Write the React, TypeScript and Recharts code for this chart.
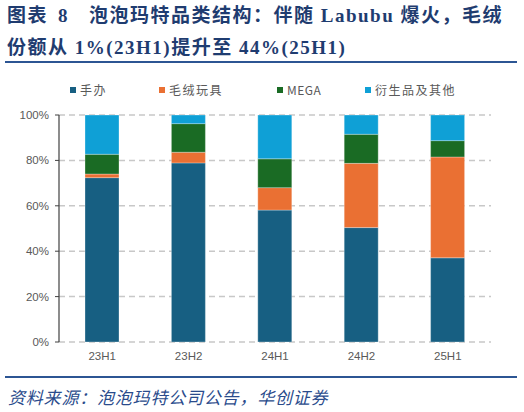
import { BarChart, Bar, XAxis, YAxis, CartesianGrid } from 'recharts';

const categories = ['23H1', '23H2', '24H1', '24H2', '25H1'];
const figureShare = [72.4, 78.9, 58.1, 50.4, 37.1];
const plushShare = [1.6, 4.7, 9.9, 28.3, 44.4];
const megaShare = [8.7, 12.6, 12.7, 12.8, 7.2];
const otherShare = [17.3, 3.8, 19.3, 8.5, 11.3];
const yTicks = [0, 20, 40, 60, 80, 100];

const seriesNames = ['手办', '毛绒玩具', 'MEGA', '衍生品及其他'];
const seriesColors = ['#175f82', '#ea7033', '#1a6b24', '#0fa0d6'];

const chartData = categories.map((c, i) => ({
    name: c,
    idx: i + 0.5,
    figure: figureShare[i],
    plush: plushShare[i],
    mega: megaShare[i],
    other: otherShare[i],
}));

const legendLeft = [70, 159, 277, 365];

function LegendRow() {
    return (
        <div style={{ position: 'absolute', left: 0, top: 81, width: 524, height: 18 }}>
            {seriesNames.map((n, i) => (
                <div
                    key={n}
                    style={{
                        position: 'absolute',
                        left: legendLeft[i],
                        top: 0,
                        display: 'flex',
                        alignItems: 'center',
                        fontSize: 12,
                        letterSpacing: n === 'MEGA' ? 0.5 : 1.5,
                        color: '#595959',
                        fontFamily: '"Noto Sans CJK SC", "DejaVu Sans", sans-serif',
                        whiteSpace: 'nowrap',
                    }}
                >
                    <span style={{ display: 'inline-block', width: 6, height: 6, background: seriesColors[i], marginRight: 4 }} />
                    {n}
                </div>
            ))}
        </div>
    );
}

export default function App() {
    const titleFont = '"Liberation Serif", "Noto Sans CJK SC", serif';
    return (
        <div style={{ position: 'absolute', left: 0, top: 0, width: 524, height: 412, background: '#fff', overflow: 'hidden' }}>
            <div
                style={{
                    position: 'absolute',
                    left: 7,
                    top: 0,
                    fontFamily: titleFont,
                    fontWeight: 700,
                    fontSize: 19,
                    letterSpacing: 1.5,
                    lineHeight: '32px',
                    color: '#1f3c70',
                    whiteSpace: 'nowrap',
                }}
            >
                <div>
                    图表<span style={{ marginLeft: 10, marginRight: 20 }}>8</span>泡泡玛特品类结构：伴随 Labubu 爆火，毛绒
                </div>
                <div>份额从 1%(23H1)提升至 44%(25H1)</div>
            </div>
            <div style={{ position: 'absolute', left: 5, top: 61, width: 512, height: 2, background: '#2c5593' }} />

            <LegendRow />

            <div style={{ position: 'absolute', left: 0, top: 0 }}>
                <BarChart
                    width={524}
                    height={412}
                    data={chartData}
                    margin={{ top: 115, right: 33, bottom: 40, left: 0 }}
                    barCategoryGap={0}
                >
                    <CartesianGrid
                        vertical={false}
                        stroke="#c8c8c8"
                        strokeWidth={1.5}
                        strokeDasharray="6 4"
                    />
                    <XAxis
                        xAxisId="ticks"
                        dataKey="idx"
                        type="number"
                        domain={[0, 5]}
                        ticks={[0, 1, 2, 3, 4, 5]}
                        allowDataOverflow
                        height={0}
                        tick={false}
                        tickSize={4}
                        stroke="#404040"
                        axisLine={{ stroke: '#404040', strokeWidth: 1.2 }}
                        tickLine={{ stroke: '#404040' }}
                    />
                    <XAxis
                        dataKey="name"
                        height={30}
                        axisLine={false}
                        tickLine={false}
                        tickSize={4}
                        tickMargin={6}
                        tick={{ fill: '#595959', fontSize: 11.5, fontFamily: '"Liberation Sans", Arial, sans-serif' }}
                    />
                    <YAxis
                        domain={[0, 100]}
                        ticks={yTicks}
                        allowDataOverflow
                        width={59}
                        tickSize={4}
                        tickMargin={6}
                        tickFormatter={(v) => `${v}%`}
                        axisLine={{ stroke: '#404040', strokeWidth: 1.2 }}
                        tickLine={{ stroke: '#404040' }}
                        tick={{ fill: '#595959', fontSize: 11.5, fontFamily: '"Liberation Sans", Arial, sans-serif' }}
                    />
                    <Bar dataKey="figure" name="手办" stackId="s" fill={seriesColors[0]} barSize={34} stroke="#ffffff" strokeOpacity={0.5} strokeWidth={0.6} isAnimationActive={false} />
                    <Bar dataKey="plush" name="毛绒玩具" stackId="s" fill={seriesColors[1]} barSize={34} stroke="#ffffff" strokeOpacity={0.5} strokeWidth={0.6} isAnimationActive={false} />
                    <Bar dataKey="mega" name="MEGA" stackId="s" fill={seriesColors[2]} barSize={34} stroke="#ffffff" strokeOpacity={0.5} strokeWidth={0.6} isAnimationActive={false} />
                    <Bar dataKey="other" name="衍生品及其他" stackId="s" fill={seriesColors[3]} barSize={34} stroke="#ffffff" strokeOpacity={0.5} strokeWidth={0.6} isAnimationActive={false} />
                </BarChart>
            </div>

            <div style={{ position: 'absolute', left: 5, top: 376, width: 512, height: 2, background: '#2c5593' }} />
            <div
                style={{
                    position: 'absolute',
                    left: 8,
                    top: 385,
                    fontSize: 17,
                    letterSpacing: 0.8,
                    lineHeight: '24px',
                    fontStyle: 'italic',
                    color: '#2a4b8c',
                    fontFamily: '"Noto Sans CJK SC", sans-serif',
                    whiteSpace: 'nowrap',
                }}
            >
                资料来源：泡泡玛特公司公告，华创证券
            </div>
        </div>
    );
}
